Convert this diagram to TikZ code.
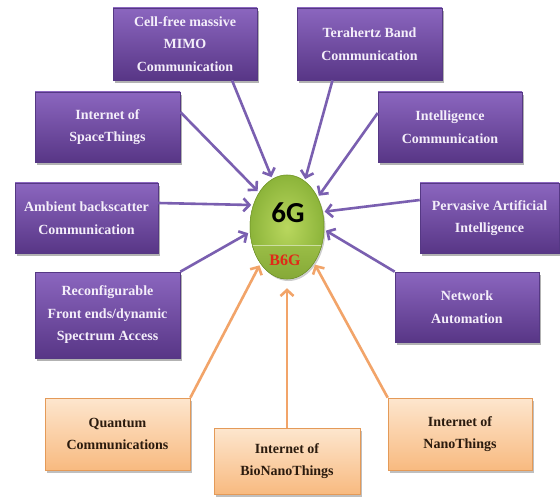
\documentclass[tikz,border=0pt]{standalone}
\usepackage{fontspec}
\setmainfont{Liberation Serif}
\newfontfamily\sixgfont{Carlito}
\usetikzlibrary{shadows,arrows.meta,shapes.geometric,calc}
\definecolor{ptop}{HTML}{8B66BF}
\definecolor{pbot}{HTML}{583686}
\definecolor{pborder}{HTML}{553884}
\definecolor{ptext}{HTML}{F4EEFA}
\definecolor{otop}{HTML}{FDE6CE}
\definecolor{obot}{HTML}{F8BA80}
\definecolor{oborder}{HTML}{E49A58}
\definecolor{otext}{HTML}{2B1B0E}
\definecolor{parrowc}{HTML}{7A5FB0}
\definecolor{oarrowc}{HTML}{F2A469}
\definecolor{gin}{HTML}{B9D75E}
\definecolor{gout}{HTML}{8CB43A}
\definecolor{btop}{HTML}{9ABD46}
\definecolor{bbot}{HTML}{7FA232}
\definecolor{gborder}{HTML}{7A9E30}
\definecolor{bred}{HTML}{E02A18}
\tikzset{
  boxfont/.style={font=\fontsize{14}{22.5}\selectfont\bfseries},
  pbox/.style={rectangle, draw=pborder, line width=0.6pt, top color=ptop, bottom color=pbot,
    text=ptext, boxfont, align=center, inner sep=2pt,
    drop shadow={shadow xshift=2pt, shadow yshift=-3pt, fill=black, opacity=0.3}},
  obox/.style={rectangle, draw=oborder, line width=0.6pt, top color=otop, bottom color=obot,
    text=otext, boxfont, align=center, inner sep=2pt,
    drop shadow={shadow xshift=2pt, shadow yshift=-3pt, fill=black, opacity=0.25}},
  parr/.style={draw=parrowc, line width=2.6pt, shorten >=2pt, -{Straight Barb[length=6pt,width=13pt]}},
  oarr/.style={draw=oarrowc, line width=2.6pt, shorten >=2pt, -{Straight Barb[length=6pt,width=13pt]}}
}
\begin{document}
\begin{tikzpicture}[x=1pt,y=-1pt]
\useasboundingbox[fill=white] (0,0) rectangle (560,500);

% boxes
\node[pbox, minimum width=144pt, minimum height=72pt] (cell) at (185,44) {Cell-free massive\\MIMO\\Communication};
\node[pbox, minimum width=145pt, minimum height=70pt] (space) at (107.5,127) {Internet of\\SpaceThings};
\node[pbox, minimum width=143pt, minimum height=70pt] (ambient) at (86.5,218) {Ambient backscatter\\Communication};
\node[pbox, minimum width=145pt, minimum height=86pt] (reconf) at (107.5,315) {Reconfigurable\\Front ends/dynamic\\Spectrum Access};
\node[pbox, minimum width=145pt, minimum height=72pt] (tera) at (369.5,44) {Terahertz Band\\Communication};
\node[pbox, minimum width=144pt, minimum height=70pt] (intel) at (450,127) {Intelligence\\Communication};
\node[pbox, minimum width=139pt, minimum height=70pt] (pervasive) at (489.5,218) {Pervasive Artificial\\Intelligence};
\node[pbox, minimum width=144pt, minimum height=70pt] (network) at (467,307) {Network\\Automation};
\node[obox, minimum width=145pt, minimum height=72pt] (quantum) at (117.5,434) {Quantum\\Communications};
\node[obox, minimum width=146pt, minimum height=66pt] (bio) at (287,461) {Internet of\\BioNanoThings};
\node[obox, minimum width=144pt, minimum height=72pt] (nano) at (460,434) {Internet of\\NanoThings};

% centre
\node[ellipse, minimum width=74pt, minimum height=104pt, inner sep=0pt,
      inner color=gin, outer color=gout, draw=gborder, line width=0.5pt,
      drop shadow={shadow xshift=1.5pt, shadow yshift=-2pt, fill=black, opacity=0.2}] (c) at (287,227) {};
\begin{scope}
  \clip (287,227) ellipse [x radius=37pt, y radius=52pt];
  \fill[top color=btop, bottom color=bbot] (240,245) rectangle (340,290);
  \draw[white, opacity=0.5, line width=0.8pt] (240,245) -- (340,245);
\end{scope}
\draw[gborder, line width=0.5pt] (287,227) ellipse [x radius=37pt, y radius=52pt];
\node[font=\sixgfont\bfseries\fontsize{29}{29}\selectfont, text=black] (t6g) at (288,213) {6G};
\node[font=\bfseries\fontsize{16}{16}\selectfont, text=bred] (tb6g) at (285,260) {B6G};

% arrows
\draw[parr] ([xshift=47pt]cell.south) -- (c.107);
\draw[parr] ([yshift=15pt]space.east) -- (c.129);
\draw[parr] ([yshift=15pt]ambient.east) -- (c.147);
\draw[parr] (reconf.north east) -- (c.188);
\draw[parr] ([xshift=-37pt]tera.south) -- (c.69);
\draw[parr] ([yshift=14pt]intel.west) -- (c.44);
\draw[parr] ([yshift=18pt]pervasive.west) -- (c.23);
\draw[parr] (network.north west) -- (c.-4);
\draw[oarr] (quantum.north east) -- (c.234);
\draw[oarr, shorten >=9pt] (bio.north) -- (c.south);
\draw[oarr] (nano.north west) -- (c.-53);
\end{tikzpicture}
\end{document}
